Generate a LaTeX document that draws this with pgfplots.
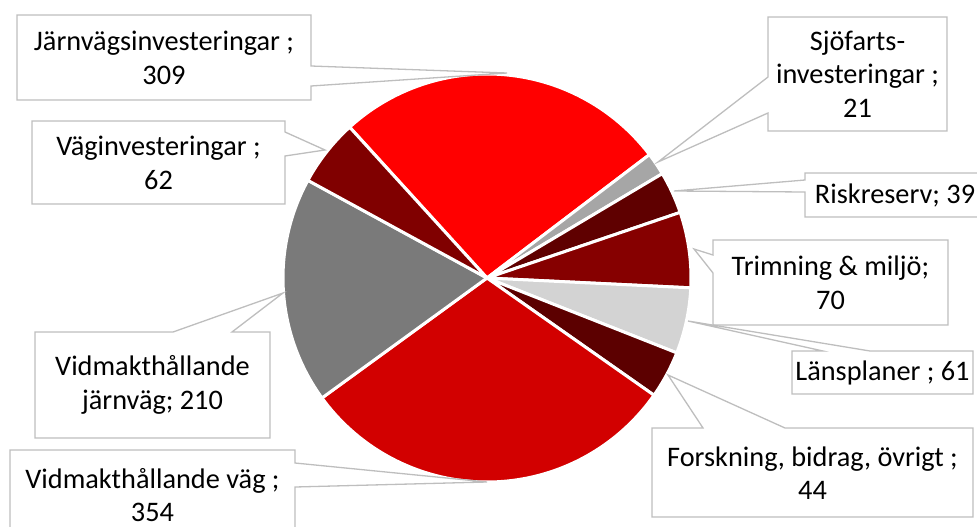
\documentclass[border=0pt]{standalone}
\usepackage{pgfplots}
\pgfplotsset{compat=1.18}
\usepackage{pgfplotstable}
\usepackage{fontspec}
\setmainfont{Carlito}

\definecolor{cJI}{RGB}{255,0,0}
\definecolor{cSJ}{RGB}{166,166,166}
\definecolor{cRR}{RGB}{95,0,0}
\definecolor{cTM}{RGB}{134,0,0}
\definecolor{cLP}{RGB}{211,211,211}
\definecolor{cFB}{RGB}{92,0,0}
\definecolor{cVV}{RGB}{210,0,0}
\definecolor{cVJ}{RGB}{122,122,122}
\definecolor{cVI}{RGB}{128,0,0}
\definecolor{cbox}{RGB}{190,190,190}

% slices in clockwise order, starting at 132.3 degrees
\pgfplotstableread{
label value color
Jarnvagsinvesteringar 309 cJI
Sjofartsinvesteringar 21 cSJ
Riskreserv 39 cRR
Trimning 70 cTM
Lansplaner 61 cLP
Forskning 44 cFB
VidmaktVag 354 cVV
VidmaktJarnvag 210 cVJ
Vaginvesteringar 62 cVI
}\piedata

\begin{document}
\begin{tikzpicture}[
  callout/.style={draw=cbox, fill=white, line width=1.3pt, line join=miter},
  lbl/.style={align=center, font=\fontsize{28.3}{33.5}\selectfont, text=black, inner sep=0pt},
]
\useasboundingbox (0,0) rectangle (977pt,527pt);
\clip (0,0) rectangle (977pt,527pt);
\begin{axis}[
  width=977pt, height=527pt, scale only axis,
  xmin=0, xmax=977, ymin=0, ymax=527, y dir=reverse,
  hide axis, clip=false,
]
\pgfplotsextra{
  \pgfplotstablegetrowsof{\piedata}
  \pgfmathtruncatemacro\nrows{\pgfplotsretval-1}
  \gdef\pietotal{0}
  \foreach \i in {0,...,\nrows}{
    \pgfplotstablegetelem{\i}{value}\of\piedata
    \pgfmathsetmacro\tmp{\pietotal+\pgfplotsretval}
    \global\let\pietotal\tmp
  }
  \gdef\curang{132.3}
  \foreach \i in {0,...,\nrows}{
    \pgfplotstablegetelem{\i}{value}\of\piedata
    \pgfmathsetmacro\endang{\curang-(\pgfplotsretval/\pietotal)*360}
    \pgfplotstablegetelem{\i}{color}\of\piedata
    \edef\col{\pgfplotsretval}
    \fill[fill=\col, draw=white, line width=3pt, line join=round]
      (axis cs:487,278) -- ++(\curang:204pt)
      arc[start angle=\curang, end angle=\endang, radius=204pt] -- cycle;
    \global\let\curang\endang
  }
}
% callouts
\draw[callout] (17,15) -- (311,15) -- (311,66) -- (507,73) -- (311,86) -- (311,100) -- (17,100) -- cycle;
\draw[callout] (768,17) -- (947,17) -- (947,131) -- (768,131) -- (768,113) -- (658,162) -- (768,77) -- cycle;
\draw[callout] (32,121) -- (285,121) -- (285,132) -- (325,150) -- (285,156) -- (285,204) -- (32,204) -- cycle;
\draw[callout] (805,173) -- (995,173) -- (995,217) -- (805,217) -- (805,192) -- (674,191) -- (805,180) -- cycle;
\draw[callout] (713,240) -- (948,240) -- (948,325) -- (713,325) -- (713,273) -- (694,249) -- (713,255) -- cycle;
\draw[callout] (792,351) -- (823,351) -- (688,321) -- (870,351) -- (973,351) -- (973,394) -- (792,394) -- cycle;
\draw[callout] (652,428) -- (703,428) -- (668,375) -- (785,428) -- (973,428) -- (973,517) -- (652,517) -- cycle;
\draw[callout] (35,332) -- (173,332) -- (283,293) -- (232,332) -- (270,332) -- (270,438) -- (35,438) -- cycle;
\draw[callout] (10,450) -- (295,450) -- (295,463) -- (487,482) -- (295,487) -- (295,545) -- (10,545) -- cycle;
% labels
\node[lbl] at (164,58) {Järnvägsinvesteringar ;\\309};
\node[lbl] at (857.5,74) {Sjöfarts-\\investeringar ;\\21};
\node[lbl] at (158.5,163) {Väginvesteringar ;\\62};
\node[lbl] at (895,195) {Riskreserv; 39};
\node[lbl] at (830.5,283) {Trimning \& miljö;\\70};
\node[lbl] at (882.5,373) {Länsplaner ; 61};
\node[lbl] at (812.5,473) {Forskning, bidrag, övrigt ;\\44};
\node[lbl] at (152.5,385) {Vidmakthållande\\järnväg; 210};
\node[lbl] at (152.5,495) {Vidmakthållande väg ;\\354};
\end{axis}
\end{tikzpicture}
\end{document}
